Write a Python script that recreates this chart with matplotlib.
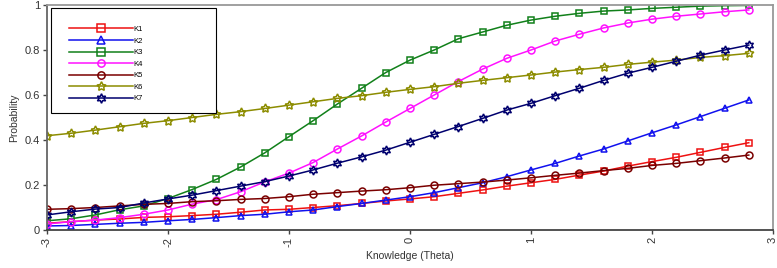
import matplotlib
matplotlib.use("Agg")
import matplotlib.pyplot as plt
from matplotlib.patches import Rectangle

plt.rcParams['font.family'] = ['Liberation Sans', 'DejaVu Sans']

theta = [-3.0, -2.8, -2.6, -2.4, -2.2, -2.0, -1.8, -1.6, -1.4, -1.2, -1.0, -0.8, -0.6, -0.4, -0.2,
         0.0, 0.2, 0.4, 0.6, 0.8, 1.0, 1.2, 1.4, 1.6, 1.8, 2.0, 2.2, 2.4, 2.6, 2.8]

k1 = [0.030, 0.037, 0.044, 0.049, 0.056, 0.059, 0.064, 0.070, 0.079, 0.089, 0.092, 0.100, 0.108, 0.118, 0.129,
      0.138, 0.148, 0.163, 0.178, 0.195, 0.210, 0.225, 0.244, 0.262, 0.284, 0.304, 0.323, 0.345, 0.367, 0.388]
k2 = [0.018, 0.020, 0.025, 0.030, 0.034, 0.041, 0.047, 0.055, 0.064, 0.070, 0.081, 0.089, 0.104, 0.118, 0.133,
      0.148, 0.166, 0.188, 0.210, 0.237, 0.267, 0.296, 0.329, 0.360, 0.396, 0.432, 0.467, 0.504, 0.541, 0.578]
k3 = [0.041, 0.050, 0.067, 0.090, 0.107, 0.140, 0.180, 0.225, 0.280, 0.343, 0.415, 0.486, 0.560, 0.630, 0.700,
      0.755, 0.800, 0.850, 0.880, 0.910, 0.933, 0.950, 0.963, 0.973, 0.978, 0.985, 0.990, 0.995, 0.997, 0.998]
k4 = [0.027, 0.037, 0.044, 0.055, 0.070, 0.089, 0.115, 0.135, 0.170, 0.214, 0.253, 0.300, 0.360, 0.418, 0.480,
      0.540, 0.600, 0.660, 0.715, 0.763, 0.800, 0.840, 0.870, 0.898, 0.920, 0.937, 0.950, 0.960, 0.970, 0.978]
k5 = [0.092, 0.095, 0.100, 0.107, 0.114, 0.118, 0.126, 0.130, 0.136, 0.140, 0.148, 0.159, 0.166, 0.173, 0.179,
      0.188, 0.199, 0.206, 0.213, 0.222, 0.232, 0.243, 0.253, 0.264, 0.274, 0.287, 0.296, 0.308, 0.320, 0.333]
k6 = [0.419, 0.430, 0.444, 0.459, 0.474, 0.486, 0.500, 0.514, 0.526, 0.540, 0.555, 0.570, 0.585, 0.597, 0.612,
      0.625, 0.637, 0.652, 0.665, 0.677, 0.689, 0.702, 0.713, 0.723, 0.736, 0.746, 0.755, 0.767, 0.775, 0.785]
k7 = [0.067, 0.081, 0.093, 0.100, 0.120, 0.138, 0.155, 0.175, 0.195, 0.215, 0.240, 0.267, 0.297, 0.325, 0.355,
      0.390, 0.425, 0.460, 0.496, 0.533, 0.563, 0.597, 0.630, 0.665, 0.697, 0.723, 0.750, 0.777, 0.800, 0.822]

labels = ['K1', 'K2', 'K3', 'K4', 'K5', 'K6', 'K7']
colors = ['#ee1111', '#1111ee', '#11801a', '#ff11ff', '#7a0000', '#8c8c00', '#00006e']
markers = ['s', '^', 's', 'o', 'o', (5, 1, 0), (6, 1, 0)]
msizes = [5, 5, 5, 5, 5, 6.5, 6.5]
series = [k1, k2, k3, k4, k5, k6, k7]

xticks = [-3, -2, -1, 0, 1, 2, 3]
yticks = [0, 0.2, 0.4, 0.6, 0.8, 1]
yticklabels = ['0', '0.2', '0.4', '0.6', '0.8', '1']

W, H = 777, 268
fig = plt.figure(figsize=(W / 100, H / 100), dpi=100)
ax = fig.add_axes([47 / W, 38 / H, 726 / W, 225 / H])

for y, lab, c, m, ms in zip(series, labels, colors, markers, msizes):
    ax.plot(theta, y, color=c, marker=m, markersize=ms, markerfacecolor='none',
            markeredgecolor=c, markeredgewidth=1.1, linewidth=1.1, label=lab)

ax.set_xlim(-3, 3)
ax.set_ylim(0, 1)
ax.set_xticks(xticks)
ax.set_xticklabels([str(t) for t in xticks], rotation=90)
ax.set_yticks(yticks)
ax.set_yticklabels(yticklabels)
ax.tick_params(axis='both', labelsize=8, direction='out', length=3, width=1,
               color='#444444', labelcolor='#333333', pad=2)
ax.spines['bottom'].set_color('#444444')
ax.spines['left'].set_color('#666666')
ax.spines['top'].set_color('#999999')
ax.spines['right'].set_color('#999999')
for s in ax.spines.values():
    s.set_linewidth(1.3)
ax.set_xlabel('Knowledge (Theta)', fontsize=7.5, color='#333333', labelpad=3)
ax.set_ylabel('Probability', fontsize=7.5, color='#333333', labelpad=4)

# legend frame (wider than its content, as in the reference)
frame = Rectangle((51 / W, (H - 113) / H), 165 / W, 105 / H, transform=fig.transFigure,
                  facecolor='white', edgecolor='black', linewidth=0.8, zorder=5)
fig.patches.append(frame)
leg = fig.legend(*ax.get_legend_handles_labels(), loc='upper left',
                 bbox_to_anchor=(65 / W, (H - 22) / H), bbox_transform=fig.transFigure,
                 fontsize=5.5, handlelength=8.4, handletextpad=0.1, labelspacing=0.55,
                 borderpad=0, frameon=False, numpoints=1, markerscale=1.05)
leg.set_zorder(6)

fig.savefig('out.png', dpi=100)
